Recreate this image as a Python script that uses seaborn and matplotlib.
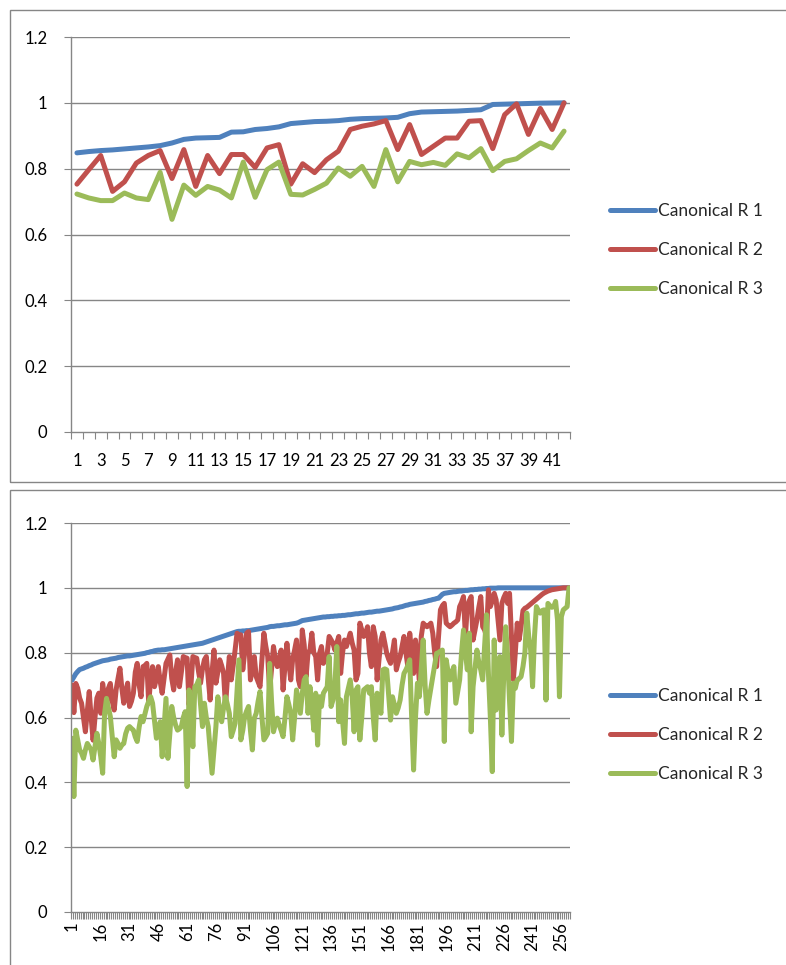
import numpy as np
import pandas as pd
import matplotlib
matplotlib.use("Agg")
import matplotlib.pyplot as plt
import seaborn as sns
from matplotlib.patches import Rectangle
from matplotlib.lines import Line2D

# ---------------- data ----------------
series_names = ["Canonical R 1", "Canonical R 2", "Canonical R 3"]
y_ticks = [0, 0.2, 0.4, 0.6, 0.8, 1.0, 1.2]
y_tick_labels = ["0", "0.2", "0.4", "0.6", "0.8", "1", "1.2"]

top_r1 = [0.848, 0.852, 0.855, 0.857, 0.860, 0.863, 0.866, 0.870, 0.878, 0.889,
          0.893, 0.894, 0.895, 0.911, 0.912, 0.919, 0.922, 0.927, 0.937, 0.940,
          0.943, 0.944, 0.946, 0.950, 0.952, 0.953, 0.954, 0.956, 0.967, 0.972,
          0.973, 0.974, 0.975, 0.977, 0.979, 0.995, 0.996, 0.997, 0.998, 0.999,
          0.9995, 1.0]
top_r2 = [0.753, 0.797, 0.840, 0.731, 0.760, 0.817, 0.840, 0.855, 0.770, 0.858,
          0.746, 0.840, 0.785, 0.843, 0.843, 0.804, 0.863, 0.873, 0.753, 0.815,
          0.788, 0.827, 0.853, 0.919, 0.929, 0.936, 0.946, 0.858, 0.934, 0.843,
          0.868, 0.893, 0.893, 0.944, 0.946, 0.861, 0.964, 0.997, 0.904, 0.983,
          0.919, 1.0]
top_r3 = [0.723, 0.711, 0.703, 0.703, 0.726, 0.711, 0.706, 0.789, 0.646, 0.750,
          0.719, 0.746, 0.735, 0.711, 0.820, 0.713, 0.797, 0.820, 0.722, 0.720,
          0.737, 0.756, 0.802, 0.777, 0.807, 0.746, 0.858, 0.760, 0.822, 0.812,
          0.819, 0.810, 0.845, 0.833, 0.861, 0.794, 0.822, 0.830, 0.855, 0.878,
          0.863, 0.914]

bot_r1 = [0.715, 0.725, 0.735, 0.742, 0.748, 0.750, 0.752, 0.755, 0.757, 0.760,
          0.762, 0.765, 0.767, 0.769, 0.771, 0.773, 0.775, 0.776, 0.777, 0.778,
          0.780, 0.781, 0.782, 0.783, 0.785, 0.786, 0.787, 0.788, 0.789, 0.790,
          0.790, 0.791, 0.792, 0.793, 0.794, 0.795, 0.796, 0.797, 0.798, 0.800,
          0.801, 0.803, 0.804, 0.806, 0.807, 0.808, 0.808, 0.809, 0.809, 0.810,
          0.811, 0.812, 0.813, 0.814, 0.815, 0.816, 0.817, 0.818, 0.819, 0.820,
          0.821, 0.822, 0.823, 0.824, 0.825, 0.826, 0.827, 0.828, 0.829, 0.831,
          0.833, 0.835, 0.837, 0.839, 0.841, 0.843, 0.845, 0.847, 0.849, 0.851,
          0.853, 0.855, 0.857, 0.859, 0.861, 0.863, 0.865, 0.866, 0.866, 0.867,
          0.867, 0.868, 0.868, 0.869, 0.870, 0.871, 0.872, 0.873, 0.874, 0.875,
          0.876, 0.877, 0.878, 0.880, 0.881, 0.881, 0.882, 0.883, 0.883, 0.884,
          0.885, 0.886, 0.886, 0.887, 0.888, 0.889, 0.890, 0.891, 0.893, 0.896,
          0.899, 0.900, 0.901, 0.902, 0.903, 0.904, 0.905, 0.906, 0.907, 0.908,
          0.909, 0.910, 0.910, 0.911, 0.911, 0.912, 0.912, 0.913, 0.913, 0.914,
          0.914, 0.915, 0.915, 0.916, 0.917, 0.917, 0.918, 0.919, 0.920, 0.920,
          0.921, 0.922, 0.922, 0.923, 0.924, 0.925, 0.925, 0.926, 0.927, 0.928,
          0.928, 0.929, 0.930, 0.931, 0.932, 0.933, 0.934, 0.935, 0.937, 0.938,
          0.939, 0.941, 0.942, 0.944, 0.946, 0.947, 0.949, 0.950, 0.951, 0.952,
          0.953, 0.954, 0.955, 0.956, 0.958, 0.959, 0.961, 0.962, 0.964, 0.965,
          0.967, 0.968, 0.974, 0.980, 0.983, 0.984, 0.985, 0.986, 0.987, 0.988,
          0.988, 0.989, 0.990, 0.990, 0.991, 0.992, 0.992, 0.993, 0.994, 0.994,
          0.995, 0.995, 0.996, 0.996, 0.997, 0.997, 0.998, 0.998, 0.999, 0.999,
          0.999, 0.999, 1.0, 1.0, 1.0, 1.0, 1.0, 1.0, 1.0, 1.0,
          1.0, 1.0, 1.0, 1.0, 1.0, 1.0, 1.0, 1.0, 1.0, 1.0,
          1.0, 1.0, 1.0, 1.0, 1.0, 1.0, 1.0, 1.0, 1.0, 1.0,
          1.0, 1.0, 1.0, 1.0, 1.0, 1.0, 1.0, 1.0, 1.0, 1.0]
bot_r2 = [0.70, 0.615, 0.705, 0.69, 0.66, 0.644, 0.60, 0.556, 0.62, 0.68,
          0.60, 0.53, 0.60, 0.66, 0.675, 0.613, 0.705, 0.66, 0.634, 0.69,
          0.705, 0.65, 0.623, 0.685, 0.72, 0.752, 0.69, 0.644, 0.68, 0.706,
          0.634, 0.65, 0.675, 0.74, 0.767, 0.70, 0.664, 0.757, 0.76, 0.767,
          0.644, 0.72, 0.757, 0.695, 0.72, 0.757, 0.71, 0.675, 0.72, 0.767,
          0.78, 0.793, 0.72, 0.685, 0.74, 0.778, 0.695, 0.74, 0.788, 0.785,
          0.783, 0.639, 0.70, 0.788, 0.785, 0.783, 0.74, 0.706, 0.75, 0.778,
          0.788, 0.72, 0.654, 0.74, 0.808, 0.706, 0.74, 0.778, 0.76, 0.736,
          0.634, 0.72, 0.788, 0.716, 0.76, 0.808, 0.86, 0.855, 0.855, 0.747,
          0.80, 0.86, 0.865, 0.716, 0.75, 0.788, 0.726, 0.71, 0.695, 0.78,
          0.86, 0.82, 0.788, 0.685, 0.75, 0.819, 0.78, 0.757, 0.78, 0.808,
          0.685, 0.76, 0.829, 0.77, 0.716, 0.78, 0.808, 0.839, 0.716, 0.695,
          0.87, 0.824, 0.726, 0.80, 0.808, 0.86, 0.80, 0.788, 0.716, 0.798,
          0.819, 0.767, 0.78, 0.798, 0.85, 0.84, 0.829, 0.808, 0.83, 0.85,
          0.736, 0.80, 0.839, 0.819, 0.84, 0.86, 0.83, 0.808, 0.716, 0.736,
          0.891, 0.87, 0.85, 0.86, 0.88, 0.80, 0.757, 0.88, 0.85, 0.716,
          0.78, 0.839, 0.86, 0.83, 0.798, 0.78, 0.767, 0.80, 0.839, 0.747,
          0.77, 0.788, 0.82, 0.85, 0.80, 0.757, 0.86, 0.80, 0.736, 0.839,
          0.78, 0.716, 0.85, 0.891, 0.885, 0.88, 0.885, 0.891, 0.86, 0.80,
          0.757, 0.85, 0.932, 0.945, 0.952, 0.891, 0.885, 0.88, 0.885, 0.891,
          0.895, 0.901, 0.942, 0.955, 0.973, 0.85, 0.942, 0.96, 0.973, 0.839,
          0.87, 0.901, 0.94, 0.973, 0.88, 0.87, 0.85, 0.994, 0.942, 0.96,
          0.983, 0.963, 0.90, 0.839, 0.952, 0.97, 0.983, 0.952, 0.983, 0.85,
          0.716, 0.80, 0.891, 0.84, 0.88, 0.93, 0.937, 0.94, 0.945, 0.95,
          0.955, 0.96, 0.965, 0.97, 0.975, 0.98, 0.984, 0.987, 0.99, 0.992,
          0.994, 0.995, 0.996, 0.997, 0.998, 0.999, 1.0, 1.0, 1.0, 1.0]
bot_r3 = [0.536, 0.356, 0.561, 0.53, 0.50, 0.49, 0.474, 0.50, 0.52, 0.51,
          0.50, 0.469, 0.51, 0.551, 0.52, 0.479, 0.428, 0.613, 0.659, 0.63,
          0.603, 0.54, 0.479, 0.531, 0.52, 0.505, 0.515, 0.52, 0.55, 0.567,
          0.572, 0.566, 0.561, 0.54, 0.526, 0.57, 0.603, 0.587, 0.61, 0.634,
          0.65, 0.664, 0.644, 0.59, 0.536, 0.56, 0.587, 0.479, 0.57, 0.659,
          0.474, 0.55, 0.634, 0.60, 0.577, 0.561, 0.565, 0.572, 0.60, 0.618,
          0.387, 0.685, 0.60, 0.51, 0.695, 0.70, 0.716, 0.64, 0.572, 0.644,
          0.60, 0.572, 0.50, 0.428, 0.50, 0.572, 0.664, 0.62, 0.587, 0.63,
          0.664, 0.64, 0.613, 0.541, 0.56, 0.582, 0.68, 0.778, 0.531, 0.56,
          0.603, 0.62, 0.634, 0.56, 0.50, 0.598, 0.613, 0.65, 0.68, 0.60,
          0.531, 0.54, 0.551, 0.767, 0.65, 0.556, 0.58, 0.598, 0.577, 0.56,
          0.541, 0.60, 0.664, 0.64, 0.613, 0.531, 0.60, 0.685, 0.65, 0.613,
          0.675, 0.716, 0.726, 0.613, 0.695, 0.639, 0.561, 0.675, 0.515, 0.664,
          0.634, 0.675, 0.685, 0.695, 0.788, 0.634, 0.654, 0.70, 0.819, 0.587,
          0.654, 0.59, 0.52, 0.664, 0.69, 0.716, 0.664, 0.556, 0.685, 0.695,
          0.531, 0.60, 0.685, 0.69, 0.695, 0.675, 0.695, 0.60, 0.531, 0.675,
          0.64, 0.613, 0.747, 0.75, 0.747, 0.67, 0.592, 0.664, 0.64, 0.613,
          0.63, 0.654, 0.70, 0.736, 0.747, 0.76, 0.778, 0.60, 0.438, 0.60,
          0.706, 0.664, 0.75, 0.839, 0.70, 0.613, 0.654, 0.69, 0.726, 0.76,
          0.798, 0.80, 0.805, 0.808, 0.526, 0.778, 0.74, 0.716, 0.74, 0.757,
          0.644, 0.68, 0.716, 0.80, 0.87, 0.80, 0.747, 0.86, 0.556, 0.695,
          0.75, 0.808, 0.77, 0.747, 0.716, 0.82, 0.917, 0.736, 0.60, 0.433,
          0.839, 0.623, 0.70, 0.788, 0.546, 0.736, 0.88, 0.788, 0.65, 0.526,
          0.706, 0.69, 0.716, 0.72, 0.726, 0.757, 0.80, 0.922, 0.85, 0.808,
          0.695, 0.85, 0.942, 0.93, 0.922, 0.93, 0.932, 0.654, 0.952, 0.945,
          0.94, 0.942, 0.958, 0.90, 0.664, 0.911, 0.932, 0.937, 0.942, 1.0]

top_x_labels = list(range(1, 43, 2))
bot_x_labels = list(range(1, 257, 15))

colors = ["#4F81BD", "#C0504D", "#9BBB59"]
grid_col = "#868686"

# ---------------- style ----------------
sns.set_style("white")
plt.rcParams["font.family"] = ["Lato", "DejaVu Sans"]
FS = 12
LFS = 12.5

W, H = 786, 965
fig = plt.figure(figsize=(W / 100, H / 100), dpi=100)


def make_long(vals_list):
    frames = []
    for name, vals in zip(series_names, vals_list):
        frames.append(pd.DataFrame({"idx": np.arange(1, len(vals) + 1),
                                    "value": vals, "series": name}))
    return pd.concat(frames, ignore_index=True)


def draw_panel(rect_px, data_list, label_vals, rotate, legend_cy, label_pad):
    x0, y_top, x1, y_bot = rect_px
    ax = fig.add_axes([x0 / W, 1 - y_bot / H, (x1 - x0) / W, (y_bot - y_top) / H])
    df = make_long(data_list)
    n = len(data_list[0])
    sns.lineplot(data=df, x="idx", y="value", hue="series", palette=colors,
                 hue_order=series_names, linewidth=3.6, ax=ax, legend=False,
                 sort=True, estimator=None)
    for ln in ax.get_lines():
        ln.set_solid_joinstyle("round")
        ln.set_solid_capstyle("round")
    ax.set_xlim(0.5, n + 0.5)
    ax.set_ylim(0, 1.2)
    ax.set_yticks(y_ticks)
    ax.set_yticklabels(y_tick_labels)
    for yv in y_ticks[1:]:
        ax.axhline(yv, color=grid_col, lw=1.0, zorder=0)
    ax.set_xticks(label_vals)
    ax.set_xticklabels([str(v) for v in label_vals],
                       rotation=90 if rotate else 0)
    ax.set_xticks(np.arange(0.5, n + 1.0, 1.0), minor=True)
    ax.tick_params(axis="x", which="major", bottom=True, length=0,
                   pad=label_pad, labelsize=FS, colors="black")
    ax.tick_params(axis="x", which="minor", bottom=True, length=5, width=0.8,
                   color=grid_col, direction="out")
    ax.tick_params(axis="y", which="major", left=True, length=5, width=0.8,
                   color=grid_col, labelcolor="black", direction="out",
                   pad=12, labelsize=FS)
    ax.set_xlabel("")
    ax.set_ylabel("")
    for s in ["top", "right"]:
        ax.spines[s].set_visible(False)
    for s in ["left", "bottom"]:
        ax.spines[s].set_color(grid_col)
        ax.spines[s].set_linewidth(1.0)
    handles = [Line2D([0], [0], color=c, lw=3.6) for c in colors]
    fig.legend(handles, series_names, loc="center left",
               bbox_to_anchor=(610 / W, 1 - legend_cy / H),
               frameon=False, fontsize=LFS, handlelength=2.6,
               handletextpad=0.17, labelspacing=1.34, borderpad=0,
               borderaxespad=0)
    return ax


# chart-area borders
fig.add_artist(Rectangle((10 / W, 1 - 482 / H), 1.0, (482 - 10) / H,
                         transform=fig.transFigure, fill=False,
                         edgecolor=grid_col, lw=1.0))
fig.add_artist(Rectangle((10 / W, -0.05), 1.0, 1 - 490 / H + 0.05,
                         transform=fig.transFigure, fill=False,
                         edgecolor=grid_col, lw=1.0))

draw_panel((71, 37, 570, 432), [top_r1, top_r2, top_r3], top_x_labels,
           False, 250, 15)
draw_panel((71, 523, 570, 912), [bot_r1, bot_r2, bot_r3], bot_x_labels,
           True, 735, 7)

fig.savefig("out.png", dpi=100, facecolor="white")
